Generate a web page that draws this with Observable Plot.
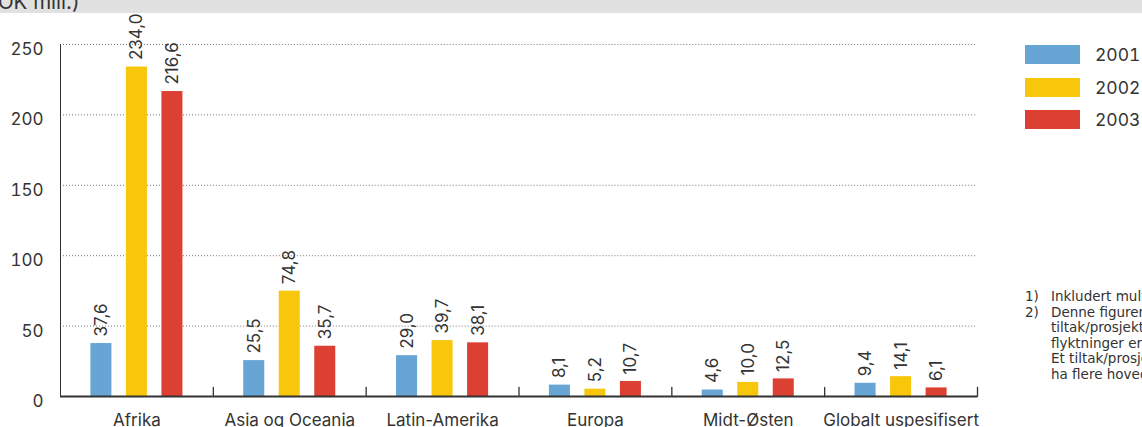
<!DOCTYPE html>
<html>
<head>
<meta charset="utf-8">
<script src="https://cdn.jsdelivr.net/npm/d3@7"></script>
<script src="https://cdn.jsdelivr.net/npm/@observablehq/plot@0.6"></script>
<style>
html,body{margin:0;padding:0;background:#fff;overflow:hidden;}
#wrap{position:relative;width:1142px;height:427px;overflow:hidden;font-family:Inter,"Liberation Sans",Arial,sans-serif;color:#333;}
#band{position:absolute;left:0;top:0;width:1142px;height:13px;background:#e1e1e1;z-index:2;overflow:hidden;}
#band span{position:absolute;left:-25px;top:-9px;font-size:20.5px;line-height:21px;white-space:nowrap;}
#chart{position:absolute;left:0;top:0;}
#legend{position:absolute;left:1025px;top:45px;}
.li{position:absolute;left:0;height:19px;width:200px;}
.sw{position:absolute;left:0;top:0;width:55px;height:19px;}
.lt{position:absolute;left:70px;top:-1px;font-size:17.5px;line-height:21px;font-feature-settings:"tnum";}
#notes{position:absolute;left:1025px;top:289px;font-size:13.5px;line-height:15.5px;white-space:nowrap;font-family:"DejaVu Sans",sans-serif;}
#notes .n{display:inline-block;width:26px;}
#notes .c{padding-left:26px;}
</style>
</head>
<body>
<div id="wrap">
  <div id="band"><span>(NOK mill.)</span></div>
  <div id="chart"></div>
  <div id="legend"></div>
  <div id="notes"></div>
</div>
<script>
const regions = ["Afrika", "Asia og Oceania", "Latin-Amerika", "Europa", "Midt-Østen", "Globalt uspesifisert"];
const years = ["2001", "2002", "2003"];
const v2001 = [37.6, 25.5, 29.0, 8.1, 4.6, 9.4];
const v2002 = [234.0, 74.8, 39.7, 5.2, 10.0, 14.1];
const v2003 = [216.6, 35.7, 38.1, 10.7, 12.5, 6.1];
const yTicks = [0, 50, 100, 150, 200, 250];
const colors = ["#67a5d5", "#f8c60b", "#db4032"];
const notes = [
  ["1)", "Inkludert multilateral bistand"],
  ["2)", "Denne figuren viser alle", "tiltak/prosjekter der", "flyktninger er hovedmålgruppe.", "Et tiltak/prosjekt kan", "ha flere hovedmålgrupper."]
];

const series = [v2001, v2002, v2003];
const data = regions.flatMap((r, i) => series.map((s, j) => ({region: r, year: years[j], value: s[i]})));
const fmt = v => d3.format(".1f")(v).replace(".", ",");

const H = 440, MT = 44, MB = 44;
const FS = 17;
const chart = Plot.plot({
  width: 1000,
  height: H,
  marginTop: MT,
  marginBottom: MB,
  marginLeft: 60,
  marginRight: 23,
  style: {fontFamily: "Inter, 'Liberation Sans', Arial, sans-serif", fontSize: FS + "px", color: "#333", background: "transparent", overflow: "visible"},
  fx: {domain: regions, paddingInner: 0, paddingOuter: 0, round: false, label: null},
  x: {domain: years, paddingInner: 0.408, paddingOuter: 0.856, round: false, axis: null},
  y: {domain: [0, 250], label: null},
  color: {domain: years, range: colors},
  marks: [
    Plot.gridY(yTicks.slice(1), {stroke: "#777", strokeOpacity: 1, strokeDasharray: "1,2"}),
    Plot.barY(data, {fx: "region", x: "year", y: "value", fill: "year"}),
    Plot.text(data, {fx: "region", x: "year", y: "value", text: d => fmt(d.value), rotate: -90, textAnchor: "start", lineAnchor: "middle", dy: -7, fontSize: FS, fill: "#333"}),
    Plot.ruleY([0], {stroke: "#333", strokeWidth: 2}),
    Plot.frame({anchor: "left", facetAnchor: "left", stroke: "#333"}),
    Plot.vector([0], {frameAnchor: "bottom-right", length: 9, rotate: 0, anchor: "start", stroke: "#333", strokeWidth: 1.3,
      shape: {draw(ctx, l) { ctx.moveTo(0, 0); ctx.lineTo(0, -l); }}}),
    Plot.axisY(yTicks, {tickSize: 0, tickPadding: 17, fontSize: FS, dy: 5, fill: "#333", label: null}),
    Plot.axisFx({anchor: "bottom", tickSize: 0, tickPadding: 17, fontSize: FS, fill: "#333", label: null})
  ]
});
document.getElementById("chart").appendChild(chart);

const legend = document.getElementById("legend");
years.forEach((y, i) => {
  const li = document.createElement("div");
  li.className = "li";
  li.style.top = (i * 32.7) + "px";
  li.innerHTML = `<div class="sw" style="background:${colors[i]}"></div><div class="lt">${y}</div>`;
  legend.appendChild(li);
});

const notesEl = document.getElementById("notes");
notes.forEach(n => {
  n.slice(1).forEach((line, k) => {
    const d = document.createElement("div");
    if (k === 0) d.innerHTML = `<span class="n">${n[0]}</span>${line}`;
    else { d.className = "c"; d.textContent = line; }
    notesEl.appendChild(d);
  });
});
</script>
</body>
</html>
